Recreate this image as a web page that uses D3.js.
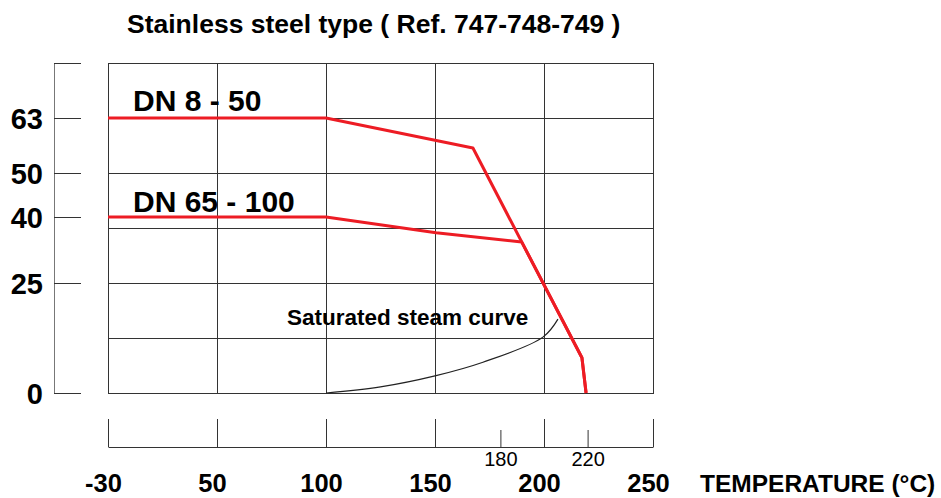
<!DOCTYPE html>
<html>
<head>
<meta charset="utf-8">
<script src="https://cdn.jsdelivr.net/npm/d3@7"></script>
<style>
body { margin: 0; background: #fff; }
text { font-family: "Liberation Sans", Arial, sans-serif; fill: #000; }
</style>
</head>
<body>
<div id="chart"></div>
<script>
// Pressure / temperature rating
var temps8 = [-30, 100, 167.4, 217.4, 219.3];
var press8 = [63, 63, 55.9, 8, 0];
var temps65 = [-30, 100, 150.5, 189.8, 217.4, 219.3];
var press65 = [40, 40, 36.4, 34.3, 8, 0];

// Saturated steam curve
var steamTemps = [100, 125, 150, 172, 199.5, 206.4];
var steamPress = [0, 1.4, 3.9, 7.0, 12.7, 16.8];

// Axis ticks
var pressTicks = [0, 25, 40, 50, 63, 75];
var pressGrid = [0, 12.5, 25, 37.5, 50, 63, 75];
var tempTicks = [-30, 50, 100, 150, 200, 250];
var tempMinor = [180, 220];

function zip(xs, ys) {
    return xs.map(function (d, i) { return {t: d, p: ys[i]}; });
}

var width = 941,
    height = 498,
    svg = d3.select("#chart").append("svg")
        .attr("width", width)
        .attr("height", height),

    // -30 sits one step left of 50, like the reference axis
    x = d3.scaleLinear()
        .domain([-30, 50, 250])
        .range([108, 217, 653]),
    y = d3.scaleLinear()
        .domain([0, 50, 63, 75])
        .range([393, 173, 118, 63]),

    line = d3.line()
        .x(function (d) { return x(d.t); })
        .y(function (d) { return y(d.p); }),
    smooth = d3.line()
        .curve(d3.curveCatmullRom)
        .x(function (d) { return x(d.t); })
        .y(function (d) { return y(d.p); });

// Title
svg.append("text")
    .attr("x", 127).attr("y", 33)
    .style("font-size", "26.5px")
    .style("font-weight", "bold")
    .text("Stainless steel type ( Ref. 747-748-749 )");

// Grid
var grid = svg.append("g")
    .attr("stroke", "#333")
    .attr("stroke-width", 1)
    .attr("shape-rendering", "crispEdges");

grid.selectAll(".v").data(tempTicks).enter().append("line")
    .attr("x1", function (d) { return x(d) + 0.5; })
    .attr("x2", function (d) { return x(d) + 0.5; })
    .attr("y1", y(75)).attr("y2", y(0));

grid.selectAll(".h").data(pressGrid).enter().append("line")
    .attr("x1", x(-30)).attr("x2", x(250) + 1)
    .attr("y1", function (d) { return y(d) + 0.5; })
    .attr("y2", function (d) { return y(d) + 0.5; });

// Left pressure axis
var yAxis = svg.append("g")
    .attr("transform", "translate(54,0)")
    .call(d3.axisRight(y)
        .tickValues(pressTicks)
        .tickSize(27)
        .tickSizeOuter(0)
        .tickFormat(function (d) { return d === 75 ? "" : d; }));
yAxis.select(".domain").attr("stroke", "#777");
yAxis.selectAll(".tick line").attr("stroke", "#333");
yAxis.selectAll("text")
    .attr("x", -11)
    .attr("dy", "0.36em")
    .style("text-anchor", "end")
    .style("font-size", "29px")
    .style("font-weight", "bold");

// Bottom temperature axis
var xAxis = svg.append("g")
    .attr("transform", "translate(0,447)")
    .call(d3.axisBottom(x)
        .tickValues(tempTicks)
        .tickFormat(String)
        .tickSizeInner(-28)
        .tickSizeOuter(0));
xAxis.select(".domain").attr("stroke", "#333");
xAxis.selectAll(".tick line").attr("stroke", "#333");
xAxis.selectAll("text")
    .attr("y", 45).attr("dy", 0).attr("dx", -5)
    .style("font-size", "25.5px")
    .style("font-weight", "bold");

var xMinor = svg.append("g")
    .attr("transform", "translate(0,447)")
    .call(d3.axisBottom(x)
        .tickValues(tempMinor)
        .tickSizeInner(-17)
        .tickSizeOuter(0));
xMinor.select(".domain").remove();
xMinor.selectAll(".tick line").attr("stroke", "#333");
xMinor.selectAll("text")
    .attr("y", 19).attr("dy", 0)
    .style("font-size", "20px");

svg.append("text")
    .attr("x", x(250) + 47).attr("y", 492)
    .style("font-size", "24.5px")
    .style("font-weight", "bold")
    .text("TEMPERATURE (\u00b0C)");

// Saturated steam curve
svg.append("path")
    .datum(zip(steamTemps, steamPress))
    .attr("fill", "none")
    .attr("stroke", "#222")
    .attr("stroke-width", 1.2)
    .attr("d", smooth);

svg.append("text")
    .attr("x", x(100) - 39).attr("y", y(15.5))
    .style("font-size", "22.5px")
    .style("font-weight", "bold")
    .text("Saturated steam curve");

// Rating lines
[zip(temps65, press65), zip(temps8, press8)].forEach(function (s) {
    svg.append("path")
        .datum(s)
        .attr("fill", "none")
        .attr("stroke", "#ed1c24")
        .attr("stroke-width", 3)
        .attr("stroke-linejoin", "round")
        .attr("d", line);
});

svg.append("text")
    .attr("x", x(-30) + 25).attr("y", y(63) - 7)
    .style("font-size", "30px")
    .style("font-weight", "bold")
    .text("DN 8 - 50");

svg.append("text")
    .attr("x", x(-30) + 25).attr("y", y(40) - 5)
    .style("font-size", "30px")
    .style("font-weight", "bold")
    .text("DN 65 - 100");
</script>
</body>
</html>
